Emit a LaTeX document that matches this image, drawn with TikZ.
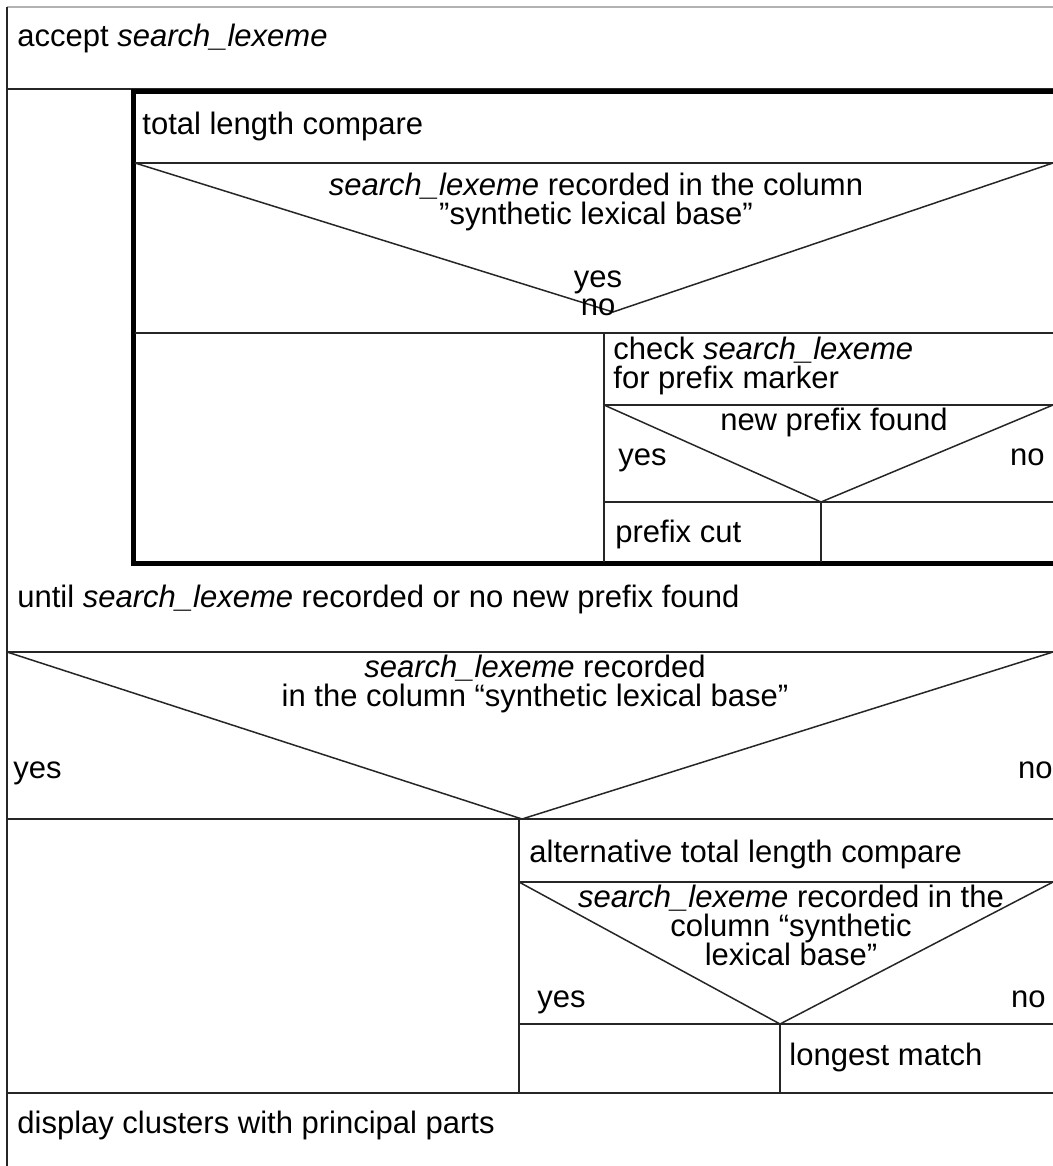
\documentclass[tikz,border=0pt]{standalone}
\usepackage{fontspec}
\setmainfont{Liberation Sans}

\begin{document}
\begin{tikzpicture}[x=0.5pt,y=-0.5pt,
  every node/.style={font=\fontsize{15.5}{14.5}\selectfont,inner sep=0pt},
  thinline/.style={line width=0.75pt,black!85},
  thickline/.style={line width=2.5pt}]
\useasboundingbox (0,0) rectangle (1053,1166);

\draw[line width=0.75pt,gray!60] (7,7) -- (1053,7);
\draw[thinline] (7,7) -- (7,1166);
\draw[thinline] (7,89) -- (1053,89);
\draw[thickline] (1053,92) -- (133.5,92) -- (133.5,563.5) -- (1053,563.5);
\draw[thinline] (135,163) -- (1053,163);
\draw[thinline] (135,163) -- (613,312) -- (1053,163);
\draw[thinline] (135,333) -- (1053,333);
\draw[thinline] (604,333) -- (604,562);
\draw[thinline] (604,405) -- (1053,405);
\draw[thinline] (604,405) -- (821,502) -- (1053,405);
\draw[thinline] (604,502) -- (1053,502);
\draw[thinline] (821,502) -- (821,562);
\draw[thinline] (7,652) -- (1053,652);
\draw[thinline] (7,652) -- (522,819) -- (1053,652);
\draw[thinline] (7,819) -- (1053,819);
\draw[thinline] (519,819) -- (519,1093);
\draw[thinline] (519,882) -- (1053,882);
\draw[thinline] (519,882) -- (780,1024) -- (1053,882);
\draw[thinline] (519,1024) -- (1053,1024);
\draw[thinline] (780,1024) -- (780,1093);
\draw[thinline] (7,1093) -- (1053,1093);

\node[anchor=base west] (accept) at (17,47) {accept \textit{search\_lexeme}};
\node[anchor=base west] (total) at (142,135) {total length compare};
\node[anchor=north,align=center] (recorded) at (596,173) {\textit{search\_lexeme} recorded in the column\\”synthetic lexical base”};
\node[anchor=base] (yesa) at (598,287) {yes};
\node[anchor=base] (noa) at (598,315) {no};
\node[anchor=north west,align=left] (check) at (613,337) {check \textit{search\_lexeme}\\for prefix marker};
\node[anchor=base] (prefix) at (834,430) {new prefix found};
\node[anchor=base west] (yesb) at (618,465) {yes};
\node[anchor=base east] (nob) at (1045,465) {no};
\node[anchor=base west] (cut) at (615,542) {prefix cut};
\node[anchor=base west] (until) at (17,607) {until \textit{search\_lexeme} recorded or no new prefix found};
\node[anchor=north,align=center] (column) at (535,655) {\textit{search\_lexeme} recorded\\in the column “synthetic lexical base”};
\node[anchor=base west] (yesc) at (13,778) {yes};
\node[anchor=base east] (noc) at (1053,778) {no};
\node[anchor=base west] (alt) at (529,862) {alternative total length compare};
\node[anchor=north,align=center] (altrec) at (791,885) {\textit{search\_lexeme} recorded in the\\column “synthetic\\lexical base”};
\node[anchor=base west] (yesd) at (537,1007) {yes};
\node[anchor=base east] (nod) at (1046,1007) {no};
\node[anchor=base west] (longest) at (789,1065) {longest match};
\node[anchor=base west] (display) at (17,1133) {display clusters with principal parts};
\end{tikzpicture}
\end{document}
